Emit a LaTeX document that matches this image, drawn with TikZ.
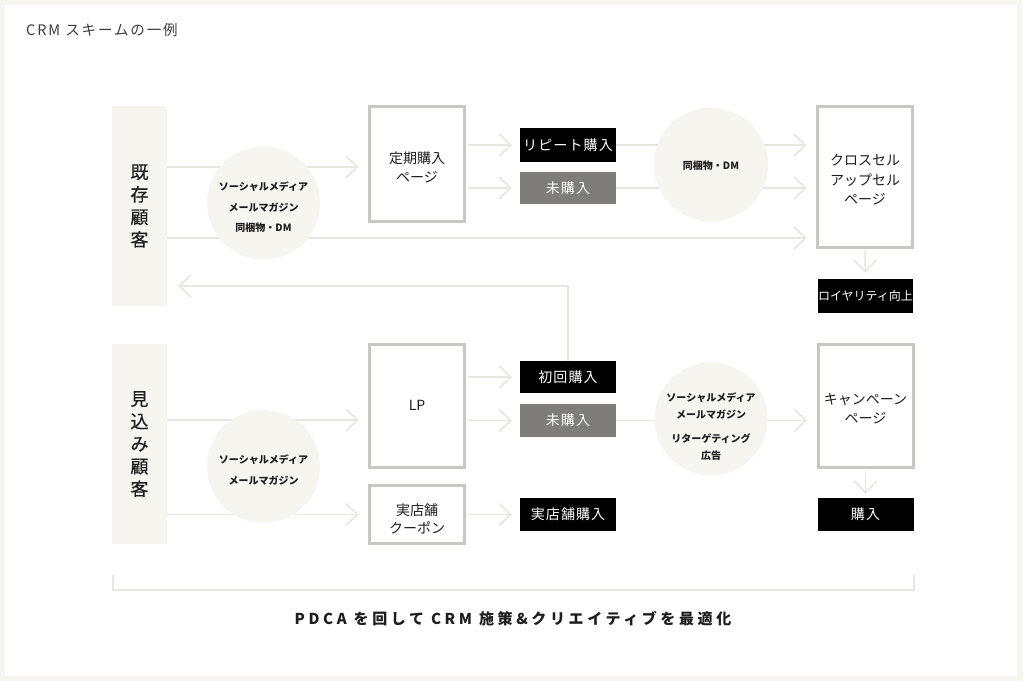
\documentclass[tikz,border=0pt]{standalone}
\usepackage{fontspec}
\setmainfont{Noto Sans CJK JP}
\usetikzlibrary{arrows.meta}
\definecolor{beige}{HTML}{F7F5F0}
\definecolor{linec}{HTML}{E8E6E0}
\definecolor{boxc}{HTML}{C8C8C3}
\definecolor{grayb}{HTML}{7E7D79}
\definecolor{titlec}{HTML}{3C3C3C}
\definecolor{txtc}{HTML}{1E1E1E}
\begin{document}
\begin{tikzpicture}[x=1pt,y=-1pt,
 conn/.style={draw=linec,line width=1.6pt},
 arr/.style={conn,-{Straight Barb[length=11.5pt,width=22pt,line width=1.6pt]}},
 bar/.style={fill=beige,minimum width=55pt,minimum height=200pt,inner sep=0pt,align=center,font=\fontsize{18}{22.5}\selectfont\addfontfeatures{FakeBold=0.5},text=txtc},
 page/.style={draw=boxc,line width=3pt,fill=white,minimum width=95pt,inner sep=0pt},
 ptext/.style={align=center,font=\fontsize{14}{19.5}\selectfont,text=txtc,inner sep=0pt},
 blk/.style={fill=black,text=white,minimum width=96pt,minimum height=33pt,inner sep=0pt,font=\fontsize{14}{16}\selectfont\addfontfeatures{LetterSpace=8}},
 gry/.style={blk,fill=grayb},
 bub/.style={circle,fill=beige,minimum size=113pt,inner sep=0pt},
 btext/.style={align=center,font=\bfseries\fontsize{10}{20.5}\selectfont,text=txtc,inner sep=0pt},
]
\useasboundingbox (0,0) rectangle (1023,681);
\fill[beige] (0,0) rectangle (1023,681);
\fill[white] (5,5) rectangle (1017,676);

\node[anchor=west,font=\fontsize{14.5}{16}\selectfont\addfontfeatures{LetterSpace=13},text=titlec,inner sep=0pt] (title) at (26,30) {CRM スキームの一例};

% bars
\node[bar] (b1) at (139.5,206) {既\\存\\顧\\客};
\node[bar] (b2) at (139.5,444) {見\\込\\み\\顧\\客};

% pages
\node[page,minimum height=115pt] (p1) at (417,164) {};
\node[ptext] (p1t) at (417,167.5) {定期購入\\ページ};
\node[page,minimum height=141pt] (q1) at (865,177) {};
\node[ptext] (q1t) at (865,180) {クロスセル\\アップセル\\ページ};
\node[page,minimum height=123pt] (lp) at (417,406) {};
\node[ptext] (lpt) at (417,405) {LP};
\node[page,minimum height=58pt] (shop) at (417,514.5) {};
\node[ptext,font=\fontsize{14}{18}\selectfont] (shopt) at (417,519) {実店舗\\クーポン};
\node[page,minimum height=123pt] (camp) at (865.5,406) {};
\node[ptext] (campt) at (865.5,408.5) {キャンペーン\\ページ};

% result boxes
\node[blk,minimum height=34pt] (r1) at (568,145) {リピート購入};
\node[gry,minimum height=32pt] (u1) at (568,188) {未購入};
\node[blk,minimum width=95pt,minimum height=34pt,font=\fontsize{12}{14}\selectfont] (loy) at (865.5,296) {ロイヤリティ向上};
\node[blk,minimum height=32pt] (r2) at (568,377) {初回購入};
\node[gry,minimum height=33pt] (u2) at (568,420.5) {未購入};
\node[blk,minimum height=33pt] (s2) at (568,514.5) {実店舗購入};
\node[blk,minimum height=33pt] (buy) at (865.5,514.5) {購入};

% connectors
\draw[arr,shorten >=9.5pt] (b1.east |- 0,167) -- (p1.west |- 0,167);
\draw[arr,shorten >=9.5pt] (b1.east |- 0,238) -- (q1.west |- 0,238);
\draw[arr,shorten >=8pt,shorten <=1.5pt] (p1.east |- r1.west) -- (r1.west);
\draw[arr,shorten >=8pt,shorten <=1.5pt] (p1.east |- u1.west) -- (u1.west);
\draw[arr,shorten >=9.5pt] (r1.east) -- (q1.west |- r1.east);
\draw[arr,shorten >=9.5pt] (u1.east) -- (q1.west |- u1.east);
\draw[arr,shorten >=6pt,shorten <=1.5pt] (q1.south) -- (loy.north);
\draw[arr,shorten >=11pt] (r2.north) -- (r2.north |- 0,286) -- (b1.east |- 0,286);
\draw[arr,shorten >=9.5pt] (b2.east |- 0,420) -- (lp.west |- 0,420);
\draw[arr,shorten >=9.5pt] (b2.east |- shop.west) -- (shop.west);
\draw[arr,shorten >=8pt,shorten <=1.5pt] (lp.east |- r2.west) -- (r2.west);
\draw[arr,shorten >=8pt,shorten <=1.5pt] (lp.east |- u2.west) -- (u2.west);
\draw[arr,shorten >=8pt,shorten <=1.5pt] (shop.east) -- (s2.west);
\draw[arr,shorten >=9.5pt] (u2.east) -- (camp.west |- u2.east);
\draw[arr,shorten >=4pt,shorten <=1.5pt] (camp.south) -- (buy.north);

% bubbles
\node[bub] (c1) at (263.5,203) {};
\node[btext] (c1t) at (263.5,207.5) {ソーシャルメディア\\メールマガジン\\同梱物・DM};
\node[bub,minimum size=114pt] (c2) at (711,164.5) {};
\node[btext] (c2t) at (711,166) {同梱物・DM};
\node[bub] (c3) at (263.5,466.5) {};
\node[btext] (c3t) at (263.5,470) {ソーシャルメディア\\メールマガジン};
\node[bub] (c4) at (711,419) {};
\node[btext,font=\bfseries\fontsize{10}{16.5}\selectfont] (c4t) at (711,426.5) {ソーシャルメディア\\メールマガジン\\[8pt]リターゲティング\\広告};

% bracket
\coordinate (brl) at (113,575);
\coordinate (brr) at (914,575);
\draw[conn] (brl) -- ++(0,15) -| (brr);

\node[font=\bfseries\fontsize{15}{17}\selectfont\addfontfeatures{LetterSpace=24},text=txtc,inner sep=0pt] (pdca) at (513,619) {PDCA を回して CRM 施策\&クリエイティブを最適化};
\end{tikzpicture}
\end{document}
